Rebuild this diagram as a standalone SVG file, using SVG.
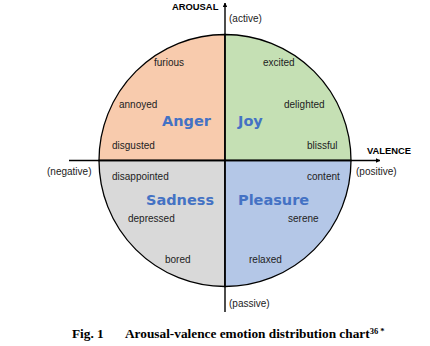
<svg xmlns="http://www.w3.org/2000/svg" width="430" height="346" viewBox="0 0 430 346">
<style>
.q{stroke:#000;stroke-width:1.3}
.w{font-family:"Liberation Sans",Arial,sans-serif;font-size:10px;fill:#222}
.big{font-family:"DejaVu Sans",Verdana,sans-serif;font-weight:bold;font-size:14.5px;fill:#4472C4}
.ax{font-family:"Liberation Sans",Arial,sans-serif;font-weight:bold;font-size:9.4px;fill:#000}
.cap{font-family:"Liberation Serif","Times New Roman",serif;font-weight:bold;font-size:13.3px;fill:#000}
.axis{stroke:#000;stroke-width:1.4;fill:none}
</style>
<defs>
<marker id="arr" viewBox="0 0 10 10" refX="9" refY="5" markerWidth="4.5" markerHeight="4.5" orient="auto" markerUnits="userSpaceOnUse">
<path d="M0,0 L10,5 L0,10 Z" fill="#000"/>
</marker>
</defs>
<rect width="430" height="346" fill="#fff"/>
<g id="anger">
<path class="q" d="M225,160.5 L99,160.5 A126,126 0 0 1 225,34.5 Z" fill="#F8CBAD"/>
<text class="w" x="154" y="66">furious</text>
<text class="w" x="119" y="108">annoyed</text>
<text class="w" x="112" y="149">disgusted</text>
<text class="big" x="162" y="126">Anger</text>
</g>
<g id="joy">
<path class="q" d="M225,160.5 L225,34.5 A126,126 0 0 1 351,160.5 Z" fill="#C5E0B4"/>
<text class="w" x="263" y="66">excited</text>
<text class="w" x="284" y="108">delighted</text>
<text class="w" x="307" y="149">blissful</text>
<text class="big" x="238" y="126">Joy</text>
</g>
<g id="sadness">
<path class="q" d="M225,160.5 L225,286.5 A126,126 0 0 1 99,160.5 Z" fill="#D9D9D9"/>
<text class="w" x="112" y="180">disappointed</text>
<text class="w" x="128" y="222">depressed</text>
<text class="w" x="165" y="263">bored</text>
<text class="big" x="146" y="205">Sadness</text>
</g>
<g id="pleasure">
<path class="q" d="M225,160.5 L351,160.5 A126,126 0 0 1 225,286.5 Z" fill="#B4C7E7"/>
<text class="w" x="307" y="180">content</text>
<text class="w" x="288" y="222">serene</text>
<text class="w" x="249" y="263">relaxed</text>
<text class="big" x="238" y="205">Pleasure</text>
</g>
<g id="connectors">
<line class="axis" x1="225" y1="312" x2="225" y2="3" marker-end="url(#arr)"/>
<line class="axis" x1="69" y1="160.5" x2="380" y2="160.5" marker-end="url(#arr)"/>
</g>
<g id="axis-labels">
<text class="ax" x="172" y="10">AROUSAL</text>
<text class="w" x="229" y="22">(active)</text>
<text class="ax" x="367" y="154">VALENCE</text>
<text class="w" x="47" y="175">(negative)</text>
<text class="w" x="356" y="175">(positive)</text>
<text class="w" x="229" y="306.5">(passive)</text>
</g>
<g id="caption">
<text class="cap" x="72" y="338">Fig. 1</text>
<text class="cap" x="125" y="338">Arousal-valence emotion distribution chart<tspan font-size="8.5px" dy="-4.5">36 *</tspan></text>
</g>
</svg>
